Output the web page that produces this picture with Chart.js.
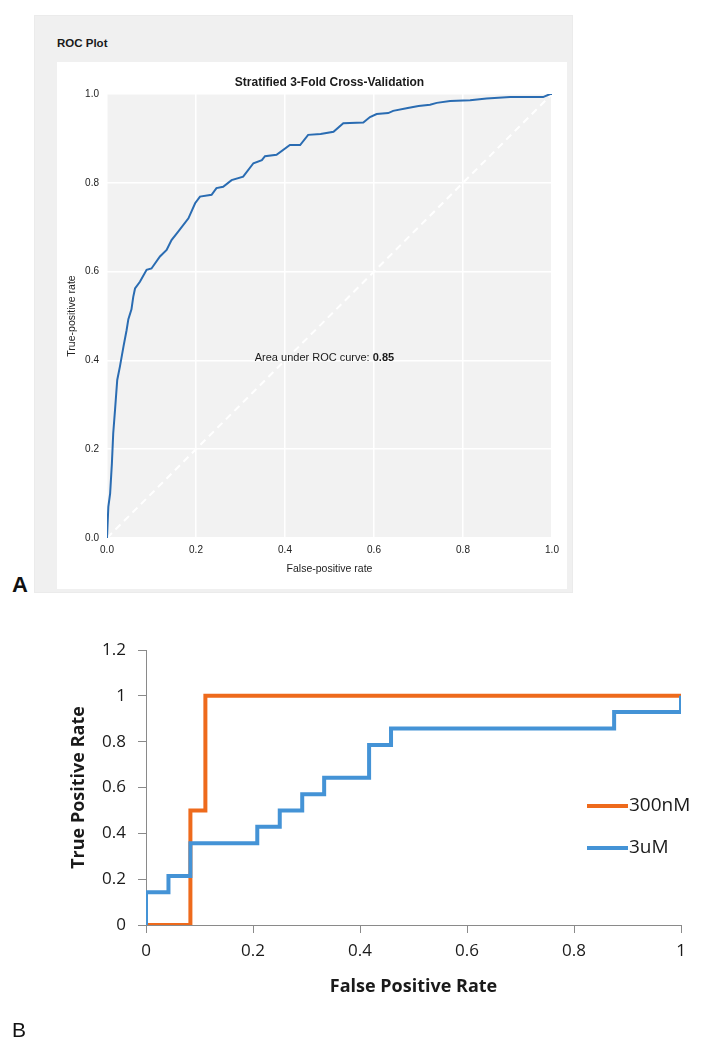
<!DOCTYPE html>
<html><head><meta charset="utf-8">
<script src="https://cdn.jsdelivr.net/npm/chart.js@4"></script>
<style>
html,body{margin:0;padding:0;background:#fff;width:708px;height:1050px;overflow:hidden;position:relative;font-family:"Liberation Sans",Arial,sans-serif}
#panelA{position:absolute;left:34px;top:15px;width:539px;height:578px;background:#f0f0f0;border:1px solid #ebebeb;box-sizing:border-box}
#cardA{position:absolute;left:57px;top:62px;width:510px;height:527px;background:#fff}
#rocTitle{position:absolute;left:57px;top:36px;font:bold 11.5px "Liberation Sans";color:#1a1a1a;line-height:14px}
#labA{position:absolute;left:12px;top:573px;font:bold 22px "Liberation Sans";line-height:24px;color:#111}
#labB{position:absolute;left:12px;top:1018px;font:21px "Liberation Sans";line-height:24px;color:#111}
#cA{position:absolute;left:57px;top:62px}
#cB{position:absolute;left:0;top:620px}
</style></head><body>
<div id="panelA"></div>
<div id="cardA"></div>
<div id="rocTitle">ROC Plot</div>
<canvas id="cA" width="510" height="527"></canvas>
<div id="labA">A</div>
<canvas id="cB" width="708" height="430"></canvas>
<div id="labB">B</div>
<script>
// ---------- Panel A data ----------
const rocFpr = [0.000,0.003,0.007,0.011,0.014,0.018,0.023,0.029,0.037,0.044,0.048,0.055,0.059,0.063,0.074,0.089,0.100,0.119,0.134,0.145,0.160,0.183,0.198,0.209,0.235,0.246,0.261,0.280,0.306,0.329,0.348,0.355,0.381,0.411,0.434,0.452,0.480,0.509,0.531,0.576,0.591,0.606,0.632,0.643,0.673,0.700,0.726,0.741,0.771,0.816,0.853,0.906,0.980,0.996,1.000];
const rocTpr = [0.000,0.070,0.100,0.168,0.236,0.288,0.356,0.386,0.431,0.468,0.493,0.515,0.543,0.562,0.577,0.604,0.607,0.634,0.649,0.671,0.690,0.720,0.754,0.769,0.773,0.788,0.791,0.806,0.814,0.844,0.851,0.860,0.863,0.885,0.885,0.908,0.910,0.915,0.934,0.936,0.948,0.955,0.957,0.962,0.968,0.973,0.976,0.980,0.984,0.986,0.990,0.993,0.993,1.000,1.000];
const chanceFpr = [0, 1];
const chanceTpr = [0, 1];
const tickLabelsA = ['0.0','0.2','0.4','0.6','0.8','1.0'];
const aucText = 'Area under ROC curve: ';
const aucValue = '0.85';

// ---------- Panel B data ----------
const seriesNames = ['300nM', '3uM'];
const fpr300nM = [0, 0.083, 0.083, 0.111, 0.111, 1];
const tpr300nM = [0, 0, 0.5, 0.5, 1, 1];
const fpr3uM = [0, 0, 0.042, 0.042, 0.083, 0.083, 0.208, 0.208, 0.25, 0.25, 0.292, 0.292, 0.333, 0.333, 0.417, 0.417, 0.458, 0.458, 0.875, 0.875, 1, 1];
const tpr3uM = [0, 0.143, 0.143, 0.214, 0.214, 0.357, 0.357, 0.429, 0.429, 0.5, 0.5, 0.571, 0.571, 0.643, 0.643, 0.786, 0.786, 0.857, 0.857, 0.929, 0.929, 1];
const xTickLabelsB = ['0','0.2','0.4','0.6','0.8','1'];
const yTickLabelsB = ['0','0.2','0.4','0.6','0.8','1','1.2'];

const pts = (xs, ys) => xs.map((x, i) => ({x, y: ys[i]}));

// ---------- Chart A ----------
const bgPlugin = {
  id: 'bgA',
  beforeDraw(chart) {
    const {ctx, chartArea: a} = chart;
    ctx.save(); ctx.fillStyle = '#f2f2f2';
    ctx.fillRect(a.left, a.top, a.right - a.left, a.bottom - a.top);
    ctx.restore();
  }
};
const aucPlugin = {
  id: 'aucA',
  afterDatasetsDraw(chart) {
    const {ctx, scales} = chart;
    const x = scales.x.getPixelForValue(0.332), y = scales.y.getPixelForValue(0.405);
    ctx.save();
    ctx.textBaseline = 'middle'; ctx.textAlign = 'left'; ctx.fillStyle = '#1a1a1a';
    ctx.font = '11px "Liberation Sans"';
    ctx.fillText(aucText, x, y);
    const w = ctx.measureText(aucText).width;
    ctx.font = 'bold 11px "Liberation Sans"';
    ctx.fillText(aucValue, x + w, y);
    ctx.restore();
  }
};
new Chart(document.getElementById('cA'), {
  type: 'scatter',
  data: { datasets: [
    { data: pts(rocFpr, rocTpr), showLine: true, borderColor: '#2a6cb2', borderWidth: 2, pointRadius: 0, order: 0 },
    { data: pts(chanceFpr, chanceTpr), showLine: true, borderColor: '#ffffff', borderWidth: 2, borderDash: [7, 5], pointRadius: 0, order: 1 }
  ]},
  plugins: [bgPlugin, aucPlugin],
  options: {
    responsive: false, animation: false, devicePixelRatio: 1,
    layout: { padding: { left: 0, right: 15, top: 0, bottom: 0 } },
    plugins: {
      legend: { display: false }, tooltip: { enabled: false },
      title: { display: true, text: 'Stratified 3-Fold Cross-Validation', fullSize: false, color: '#1a1a1a',
        font: { family: '"Liberation Sans"', size: 12, weight: 'bold' }, padding: { top: 13, bottom: 4.6 } }
    },
    scales: {
      x: { type: 'linear', min: 0, max: 1,
        ticks: { stepSize: 0.2, padding: 6, color: '#222', font: { family: '"Liberation Sans"', size: 10 }, callback: (v, i) => tickLabelsA[i] },
        grid: { color: '#ffffff', lineWidth: 1.5, drawTicks: false }, border: { display: false },
        title: { display: true, text: 'False-positive rate', color: '#222', font: { family: '"Liberation Sans"', size: 10.5 }, padding: { top: 0, bottom: 14 } },
        afterFit(s) { s.height = 51; } },
      y: { type: 'linear', min: 0, max: 1,
        ticks: { stepSize: 0.2, padding: 8, color: '#222', font: { family: '"Liberation Sans"', size: 10 }, callback: (v, i) => tickLabelsA[i] },
        grid: { color: '#ffffff', lineWidth: 1.5, drawTicks: false }, border: { display: false },
        title: { display: true, text: 'True-positive rate', color: '#222', font: { family: '"Liberation Sans"', size: 10.5 }, padding: { top: 9, bottom: 0 } },
        afterFit(s) { s.width = 50; } }
    }
  }
});

// ---------- Chart B ----------
const legendB = {
  id: 'legendB',
  afterDraw(chart) {
    const {ctx} = chart;
    const rows = [186, 228];
    ctx.save();
    chart.data.datasets.forEach((ds) => {
      const i = seriesNames.indexOf(ds.label);
      const y = rows[i];
      ctx.strokeStyle = ds.borderColor; ctx.lineWidth = ds.borderWidth; ctx.lineCap = 'butt';
      ctx.beginPath(); ctx.moveTo(587, y); ctx.lineTo(628, y); ctx.stroke();
      ctx.fillStyle = '#1a1a1a'; ctx.font = '19px "Open Sans"'; ctx.textBaseline = 'middle'; ctx.textAlign = 'left';
      ctx.fillText(ds.label, 629, y);
    });
    ctx.restore();
  }
};
const axisGray = '#8a8a8a';
new Chart(document.getElementById('cB'), {
  type: 'scatter',
  data: { datasets: [
    { label: seriesNames[0], data: pts(fpr300nM, tpr300nM), showLine: true, borderColor: '#ee6a1c', borderWidth: 4, pointRadius: 0, borderJoinStyle: 'miter', order: 1 },
    { label: seriesNames[1], data: pts(fpr3uM, tpr3uM), showLine: true, borderColor: '#4493d6', borderWidth: 4, pointRadius: 0, borderJoinStyle: 'miter', order: 0 }
  ]},
  plugins: [legendB],
  options: {
    responsive: false, animation: false, devicePixelRatio: 1,
    layout: { padding: { left: 0, right: 27, top: 30, bottom: 0 } },
    plugins: { legend: { display: false }, tooltip: { enabled: false } },
    scales: {
      x: { type: 'linear', min: 0, max: 1,
        ticks: { stepSize: 0.2, padding: 8, color: '#1a1a1a', font: { family: '"Open Sans"', size: 17 }, callback: (v, i) => xTickLabelsB[i] },
        grid: { drawOnChartArea: false, drawTicks: true, tickLength: 8, color: axisGray, lineWidth: 1 },
        border: { display: true, color: axisGray, width: 1 },
        title: { display: true, text: 'False Positive Rate', color: '#1a1a1a', font: { family: '"Open Sans"', size: 18, weight: 'bold' }, padding: { top: 0, bottom: 52 } },
        afterFit(s) { s.height = 125; } },
      y: { type: 'linear', min: 0, max: 1.2,
        ticks: { stepSize: 0.2, padding: 12, color: '#1a1a1a', font: { family: '"Open Sans"', size: 17 }, callback: (v, i) => yTickLabelsB[i] },
        grid: { drawOnChartArea: false, drawTicks: true, tickLength: 8, color: axisGray, lineWidth: 1 },
        border: { display: true, color: axisGray, width: 1 },
        title: { display: true, text: 'True Positive Rate', color: '#1a1a1a', font: { family: '"Open Sans"', size: 18, weight: 'bold' }, padding: { top: 68, bottom: 0 } },
        afterFit(s) { s.width = 146; } }
    }
  }
});
</script>
</body></html>
